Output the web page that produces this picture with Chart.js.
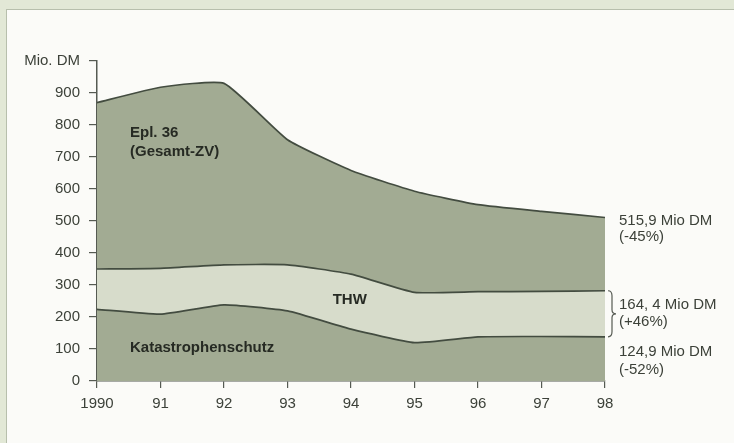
<!DOCTYPE html>
<html>
<head>
<meta charset="utf-8">
<script src="https://cdn.jsdelivr.net/npm/chart.js@4/dist/chart.umd.min.js"></script>
<style>
  html, body { margin: 0; padding: 0; }
  body { width: 734px; height: 443px; background: #e2e8d6; position: relative; overflow: hidden; }
  #panel { position: absolute; left: 6px; top: 9px; right: 0; bottom: 0; background: #fbfbf8;
           border-left: 1px solid #b7bfac; border-top: 1px solid #b7bfac; }
  #wrap { position: absolute; left: 0; top: 0; width: 734px; height: 443px; }
</style>
</head>
<body>
<div id="panel"></div>
<div id="wrap"><canvas id="chart" width="734" height="443"></canvas></div>
<script>
const years = [1990, 1991, 1992, 1993, 1994, 1995, 1996, 1997, 1998];
const xTickLabels = ["1990", "91", "92", "93", "94", "95", "96", "97", "98"];
// upper edge of each band, Mio. DM
const katastrophenschutz = [224, 209, 238, 219, 162, 120, 138, 139, 138];
const thwTop = [350, 352, 363, 363, 334, 277, 279, 280, 282];
const gesamt = [870, 918, 930, 754, 658, 593, 551, 530, 511];

const areaLabels = [
  { text: "Epl. 36", x: 1990.52, y: 775, align: "left" },
  { text: "(Gesamt-ZV)", x: 1990.52, y: 716, align: "left" },
  { text: "THW", x: 1993.98, y: 253, align: "center" },
  { text: "Katastrophenschutz", x: 1990.52, y: 103, align: "left" }
];
const endLabels = [
  { text: "515,9 Mio DM", y: 501 },
  { text: "(-45%)", y: 450 },
  { text: "164, 4 Mio DM", y: 237 },
  { text: "(+46%)", y: 184 },
  { text: "124,9 Mio DM", y: 91 },
  { text: "(-52%)", y: 34 }
];

const darkFill = "#a2ab93";
const lightFill = "#d7dccb";
const lineColor = "#434c40";
const textColor = "#3c4139";
const FONT = "'Liberation Sans', Arial, sans-serif";

const labelPlugin = {
  id: "labels",
  afterDatasetsDraw(chart) {
    const { ctx, chartArea, scales } = chart;
    const xs = scales.x, ys = scales.y;
    ctx.save();
    ctx.textBaseline = "middle";
    ctx.fillStyle = "#262a23";
    ctx.font = "bold 15px " + FONT;
    areaLabels.forEach((l) => {
      ctx.textAlign = l.align;
      ctx.fillText(l.text, xs.getPixelForValue(l.x), ys.getPixelForValue(l.y));
    });
    ctx.fillStyle = textColor;
    ctx.font = "15px " + FONT;
    ctx.textAlign = "left";
    endLabels.forEach((l) => {
      ctx.fillText(l.text, chartArea.right + 14, ys.getPixelForValue(l.y));
    });
    // brace around THW band
    const last = years.length - 1;
    const y0 = ys.getPixelForValue(thwTop[last]);
    const y1 = ys.getPixelForValue(katastrophenschutz[last]);
    const ym = (y0 + y1) / 2;
    const bx = chartArea.right + 3;
    ctx.strokeStyle = "#555a52";
    ctx.lineWidth = 1.2;
    ctx.beginPath();
    ctx.moveTo(bx, y0);
    ctx.quadraticCurveTo(bx + 4, y0, bx + 4, y0 + 5);
    ctx.lineTo(bx + 4, ym - 4);
    ctx.quadraticCurveTo(bx + 4, ym, bx + 8, ym);
    ctx.quadraticCurveTo(bx + 4, ym, bx + 4, ym + 4);
    ctx.lineTo(bx + 4, y1 - 5);
    ctx.quadraticCurveTo(bx + 4, y1, bx, y1);
    ctx.stroke();
    ctx.restore();
  }
};

const toPoints = (arr) => arr.map((v, i) => ({ x: years[i], y: v }));

new Chart(document.getElementById("chart"), {
  type: "line",
  data: {
    datasets: [
      { label: "Katastrophenschutz", data: toPoints(katastrophenschutz), fill: "origin",
        backgroundColor: darkFill, borderColor: lineColor, borderWidth: 1.7, pointRadius: 0, tension: 0.15 },
      { label: "THW", data: toPoints(thwTop), fill: "-1",
        backgroundColor: lightFill, borderColor: lineColor, borderWidth: 1.7, pointRadius: 0, tension: 0.15 },
      { label: "Epl. 36 (Gesamt-ZV)", data: toPoints(gesamt), fill: "-1",
        backgroundColor: darkFill, borderColor: lineColor, borderWidth: 1.7, pointRadius: 0, tension: 0.15 }
    ]
  },
  options: {
    responsive: false,
    animation: false,
    layout: { padding: { left: 0, right: 129, top: 61, bottom: 0 } },
    plugins: { legend: { display: false }, tooltip: { enabled: false } },
    scales: {
      x: {
        type: "linear", min: 1990, max: 1998,
        afterFit: (s) => { s.height = 62; },
        ticks: {
          stepSize: 1, color: textColor, font: { family: FONT, size: 15 }, padding: 7,
          callback: (v) => xTickLabels[years.indexOf(v)]
        },
        grid: { drawOnChartArea: false, drawTicks: true, tickLength: 7, color: "#555a52", lineWidth: 1.2 },
        border: { color: "#555a52", width: 1.5 }
      },
      y: {
        min: 0, max: 1000,
        afterFit: (s) => { s.width = 97; },
        ticks: {
          stepSize: 100, color: textColor, font: { family: FONT, size: 15 }, padding: 9,
          callback: (v) => (v === 1000 ? "Mio. DM" : v)
        },
        grid: { drawOnChartArea: false, drawTicks: true, tickLength: 8, color: "#555a52", lineWidth: 1.2 },
        border: { color: "#555a52", width: 1.5 }
      }
    }
  },
  plugins: [labelPlugin]
});
</script>
</body>
</html>
